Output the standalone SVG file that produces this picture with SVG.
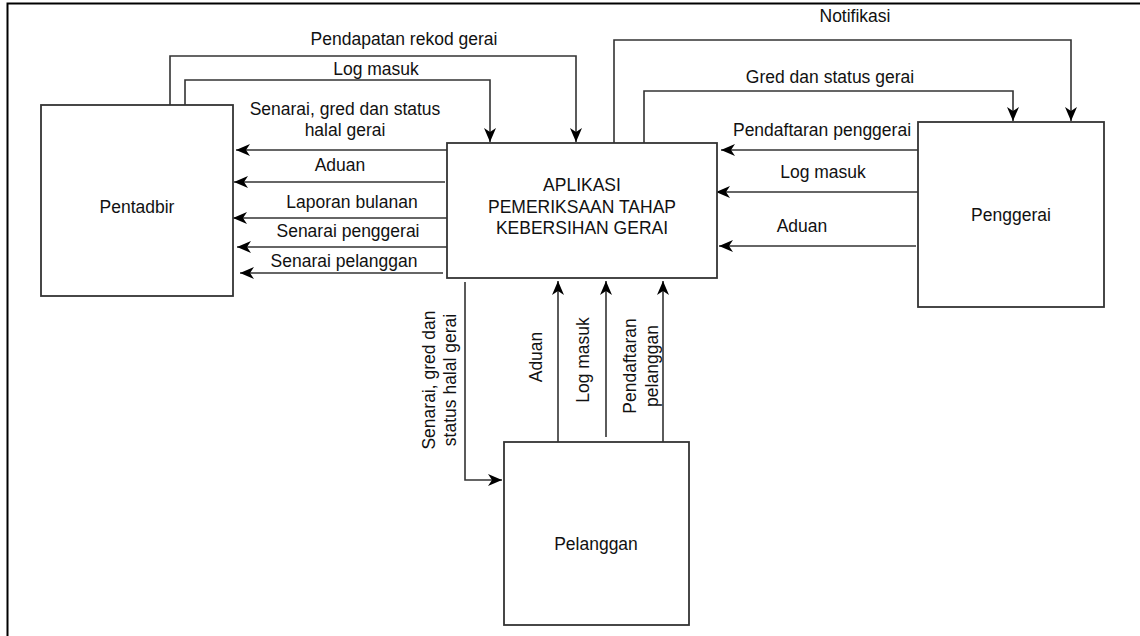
<svg xmlns="http://www.w3.org/2000/svg" width="1140" height="636" viewBox="0 0 1140 636">
<style>
.box{fill:#fff;stroke:#333;stroke-width:1.8}
.ln{fill:none;stroke:#333;stroke-width:1.6;marker-end:url(#arr)}
.t{font-family:"Liberation Sans",Arial,sans-serif;font-size:17.5px;fill:#111;text-anchor:middle}
</style>
<defs>
<marker id="arr" markerUnits="userSpaceOnUse" viewBox="0 0 14 12" markerWidth="14" markerHeight="12" refX="14" refY="6" orient="auto">
<path d="M14,6 L0,0 L4,6 L0,12 Z" fill="#000"/>
</marker>
</defs>
<rect width="1140" height="636" fill="#fff"/>
<path d="M7.5,636 V3.5 H1140" fill="none" stroke="#000" stroke-width="2"/>

<g id="connectors">
<path class="ln" d="M170,105 V56 H576 V142"/>
<path class="ln" d="M185,105 V80 H490 V142"/>
<path class="ln" d="M614,143 V40 H1071 V121"/>
<path class="ln" d="M644,143 V91 H1013 V121"/>
<path class="ln" d="M448,150 H236"/>
<path class="ln" d="M445,182 H234"/>
<path class="ln" d="M448,218 H233"/>
<path class="ln" d="M447,247 H237"/>
<path class="ln" d="M443,273 H240"/>
<path class="ln" d="M920,150 H721"/>
<path class="ln" d="M923,192 H716"/>
<path class="ln" d="M916,246 H719"/>
<path class="ln" d="M465,282 V480 H502"/>
<path class="ln" d="M558,442 V281"/>
<path class="ln" d="M606,437 V281"/>
<path class="ln" d="M663,443 V281"/>
<g class="t">
<text x="404" y="45">Pendapatan rekod gerai</text>
<text x="376" y="75">Log masuk</text>
<text x="345" y="115">Senarai, gred dan status</text>
<text x="345" y="136">halal gerai</text>
<text x="340" y="171">Aduan</text>
<text x="352" y="208">Laporan bulanan</text>
<text x="348" y="237">Senarai penggerai</text>
<text x="344" y="267">Senarai pelanggan</text>
<text x="855" y="22">Notifikasi</text>
<text x="830" y="83">Gred dan status gerai</text>
<text x="822" y="136">Pendaftaran penggerai</text>
<text x="823" y="178">Log masuk</text>
<text x="802" y="232">Aduan</text>
<text transform="translate(435,380) rotate(-90)">Senarai, gred dan</text>
<text transform="translate(456,380) rotate(-90)">status halal gerai</text>
<text transform="translate(542,357) rotate(-90)">Aduan</text>
<text transform="translate(589,360) rotate(-90)">Log masuk</text>
<text transform="translate(636,366) rotate(-90)">Pendaftaran</text>
<text transform="translate(658,366) rotate(-90)">pelanggan</text>
</g>
</g>

<g id="pentadbir">
<rect class="box" x="41" y="105" width="192" height="191"/>
<text class="t" x="137" y="213">Pentadbir</text>
</g>
<g id="aplikasi">
<rect class="box" x="447" y="143" width="270" height="135"/>
<text class="t" x="582" y="191">APLIKASI</text>
<text class="t" x="582" y="213">PEMERIKSAAN TAHAP</text>
<text class="t" x="582" y="234">KEBERSIHAN GERAI</text>
</g>
<g id="penggerai">
<rect class="box" x="918" y="122" width="186" height="185"/>
<text class="t" x="1011" y="221">Penggerai</text>
</g>
<g id="pelanggan">
<rect class="box" x="504" y="442" width="185" height="183"/>
<text class="t" x="596" y="550">Pelanggan</text>
</g>
</svg>
